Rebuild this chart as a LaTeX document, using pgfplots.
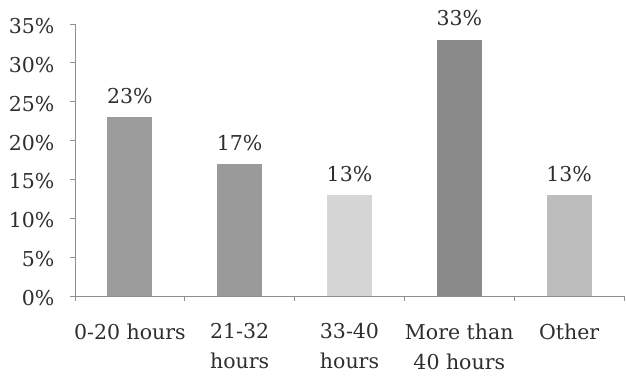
\documentclass[border=0pt]{standalone}
\usepackage{pgfplots}
\pgfplotsset{compat=1.18}
\usepackage{fontspec}
\setmainfont{DejaVu Serif}
\definecolor{txt}{HTML}{2E2E2E}
\definecolor{axl}{HTML}{909090}
\definecolor{barA}{HTML}{9C9C9C}
\definecolor{barB}{HTML}{9A9A9A}
\definecolor{barC}{HTML}{D6D6D6}
\definecolor{barD}{HTML}{8A8A8A}
\definecolor{barE}{HTML}{BDBDBD}
\begin{document}
\begin{tikzpicture}
\useasboundingbox (-75pt,-79pt) rectangle (551pt,296pt);
\begin{axis}[
  at={(0pt,0pt)}, anchor=south west,
  scale only axis, width=549pt, height=272pt,
  xmin=-0.5, xmax=4.5, ymin=0, ymax=35,
  axis x line*=bottom, axis y line*=left,
  axis line style={draw=axl, line width=0.8pt},
  ytick={0,5,...,35},
  yticklabel={\pgfmathprintnumber{\tick}\%},
  /pgf/number format/assume math mode=true,
  xtick={0,1,2,3,4},
  xticklabels={0-20 hours,{21-32\\hours},{33-40\\hours},{More than\\40 hours},Other},
  major x tick style={draw=none},
  minor xtick={-0.5,0.5,1.5,2.5,3.5,4.5},
  minor tick length=5pt, major tick length=5pt,
  tick align=outside,
  tick style={draw=axl, line width=0.8pt},
  ticklabel style={font=\fontsize{20.5}{30}\selectfont, text=txt},
  xticklabel style={align=center, anchor=north, yshift=-19pt},
  yticklabel style={xshift=-12pt, yshift=-2pt},
  nodes near coords={\pgfmathprintnumber{\pgfplotspointmeta}\%},
  every node near coord/.append style={font=\fontsize{20.5}{24}\selectfont, text=txt, anchor=south, yshift=10pt},
  clip=false,
]
\addplot[ybar, bar width=45pt, bar shift=0pt, fill=barA, draw=none] coordinates {(0,23)};
\addplot[ybar, bar width=45pt, bar shift=0pt, fill=barB, draw=none] coordinates {(1,17)};
\addplot[ybar, bar width=45pt, bar shift=0pt, fill=barC, draw=none] coordinates {(2,13)};
\addplot[ybar, bar width=45pt, bar shift=0pt, fill=barD, draw=none] coordinates {(3,33)};
\addplot[ybar, bar width=45pt, bar shift=0pt, fill=barE, draw=none] coordinates {(4,13)};
\end{axis}
\end{tikzpicture}
\end{document}
